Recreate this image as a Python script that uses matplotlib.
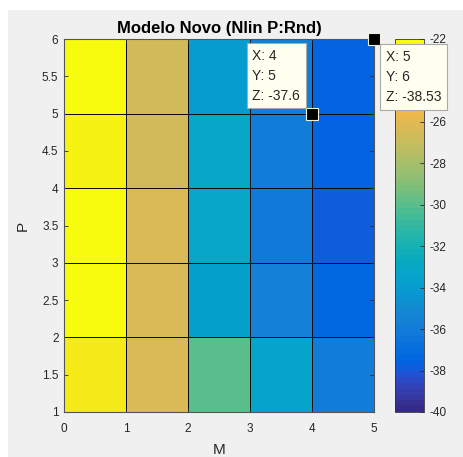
import numpy as np
import matplotlib
matplotlib.use("Agg")
import matplotlib.pyplot as plt
from matplotlib.colors import ListedColormap, Normalize
from matplotlib.patches import Rectangle
import matplotlib.colorbar as mcolorbar

plt.rcParams['font.family'] = ['Liberation Sans', 'DejaVu Sans']

# ---- data ----
M_edges = [0, 1, 2, 3, 4, 5]
P_edges = [1, 2, 3, 4, 5, 6]
# Z[row for P=1..5][col for M=0..4]
Z_row_P1 = [-22.6, -26.3, -30.0, -33.4, -36.0]
Z_row_P2 = [-22.0, -26.3, -33.7, -35.7, -37.4]
Z_row_P3 = [-22.0, -26.3, -33.1, -36.3, -38.0]
Z_row_P4 = [-22.3, -26.6, -33.0, -35.8, -37.6]
Z_row_P5 = [-22.0, -26.6, -34.0, -35.8, -37.6]
tip_x = [4, 5]
tip_y = [5, 6]
tip_z = ["-37.6", "-38.53"]
cbar_ticks = [-40, -38, -36, -34, -32, -30, -28, -26, -24, -22]
x_ticks = [0, 1, 2, 3, 4, 5]
y_ticks = [1, 1.5, 2, 2.5, 3, 3.5, 4, 4.5, 5, 5.5, 6]
clim = (-40, -22)

parula_data = [[0.2081, 0.1663, 0.5292], [0.2116, 0.1898, 0.5777], [0.2123, 0.2138, 0.6270], [0.2081, 0.2386, 0.6771],
 [0.1959, 0.2645, 0.7279], [0.1707, 0.2919, 0.7792], [0.1253, 0.3242, 0.8303], [0.0591, 0.3598, 0.8683],
 [0.0117, 0.3875, 0.8820], [0.0060, 0.4086, 0.8828], [0.0165, 0.4266, 0.8786], [0.0329, 0.4430, 0.8720],
 [0.0498, 0.4586, 0.8641], [0.0629, 0.4737, 0.8554], [0.0723, 0.4887, 0.8467], [0.0779, 0.5040, 0.8384],
 [0.0793, 0.5200, 0.8312], [0.0749, 0.5375, 0.8263], [0.0641, 0.5570, 0.8240], [0.0488, 0.5772, 0.8228],
 [0.0343, 0.5966, 0.8199], [0.0265, 0.6137, 0.8135], [0.0239, 0.6287, 0.8038], [0.0231, 0.6418, 0.7913],
 [0.0228, 0.6535, 0.7768], [0.0267, 0.6642, 0.7607], [0.0384, 0.6743, 0.7436], [0.0590, 0.6838, 0.7254],
 [0.0843, 0.6928, 0.7062], [0.1133, 0.7015, 0.6859], [0.1453, 0.7098, 0.6646], [0.1801, 0.7177, 0.6424],
 [0.2178, 0.7250, 0.6193], [0.2586, 0.7317, 0.5954], [0.3022, 0.7376, 0.5712], [0.3482, 0.7424, 0.5473],
 [0.3953, 0.7459, 0.5244], [0.4420, 0.7481, 0.5033], [0.4871, 0.7491, 0.4840], [0.5300, 0.7491, 0.4661],
 [0.5709, 0.7485, 0.4494], [0.6099, 0.7473, 0.4337], [0.6473, 0.7456, 0.4188], [0.6834, 0.7435, 0.4044],
 [0.7184, 0.7411, 0.3905], [0.7525, 0.7384, 0.3768], [0.7858, 0.7356, 0.3633], [0.8185, 0.7327, 0.3498],
 [0.8507, 0.7299, 0.3360], [0.8824, 0.7274, 0.3217], [0.9139, 0.7258, 0.3063], [0.9450, 0.7261, 0.2886],
 [0.9739, 0.7314, 0.2666], [0.9938, 0.7455, 0.2403], [0.9990, 0.7653, 0.2164], [0.9955, 0.7861, 0.1967],
 [0.9880, 0.8066, 0.1794], [0.9789, 0.8271, 0.1633], [0.9697, 0.8481, 0.1475], [0.9626, 0.8705, 0.1309],
 [0.9589, 0.8949, 0.1132], [0.9598, 0.9218, 0.0948], [0.9661, 0.9514, 0.0755], [0.9763, 0.9831, 0.0538]]
parula = ListedColormap(parula_data, name='parula')

W, H = 464, 457
fig = plt.figure(figsize=(W / 100, H / 100), dpi=100, facecolor='white')
fig.patches.append(Rectangle((8 / W, 0), 1, (H - 10) / H, transform=fig.transFigure,
                             facecolor='#f0f0f0', edgecolor='none', zorder=-10))

def fx(px):
    return px / W

def fy(py):
    return 1 - py / H

# colorbar (created first so the main axes, with the datatips, sits above it)
cax = fig.add_axes([fx(395), fy(412), fx(424) - fx(395), fy(39) - fy(412)])
norm = Normalize(*clim)
cb = mcolorbar.ColorbarBase(cax, cmap=parula, norm=norm, ticks=cbar_ticks)
cb.outline.set_edgecolor('#333333')
cb.outline.set_linewidth(0.6)
cax.tick_params(direction='in', length=3, width=0.6, labelsize=8.5, colors='#262626', pad=4)
cax.set_yticklabels([('%g' % v) for v in cbar_ticks])

ax = fig.add_axes([fx(64), fy(412), fx(374) - fx(64), fy(39) - fy(412)])
ax.set_zorder(cax.get_zorder() + 1)
Z = np.array([Z_row_P1, Z_row_P2, Z_row_P3, Z_row_P4, Z_row_P5])
ax.pcolormesh(M_edges, P_edges, Z, cmap=parula, norm=norm, edgecolor='#0a0a0a',
              linewidth=0.7, antialiased=True)
ax.set_xlim(M_edges[0], M_edges[-1])
ax.set_ylim(P_edges[0], P_edges[-1])
ax.set_xticks(x_ticks)
ax.set_yticks(y_ticks)
ax.set_yticklabels([('%g' % v) for v in y_ticks])
ax.tick_params(direction='in', length=3, width=0.6, labelsize=8.5, colors='#262626', pad=4,
               top=True, right=True)
ax.tick_params(axis='x', pad=8)
for s in ax.spines.values():
    s.set_color('#555555')
    s.set_linewidth(0.8)
ax.set_title('Modelo Novo (Nlin P:Rnd)', fontsize=12, fontweight='bold', pad=4)
ax.set_xlabel('M', fontsize=11, color='#262626', labelpad=6)
ax.set_ylabel('P', fontsize=11, color='#262626', labelpad=9)

# datatips
offsets = [(-12, 11, 'right', 'bottom'), (12, -11, 'left', 'top')]
for x, y, z, (dx, dy, ha, va) in zip(tip_x, tip_y, tip_z, offsets):
    ax.plot([x], [y], marker='s', markersize=8.5, color='black', markeredgecolor='#f0f0e0',
            markeredgewidth=0.8, clip_on=False, zorder=5)
    ax.annotate('X: %g\nY: %g\nZ: %s' % (x, y, z), xy=(x, y), xytext=(dx, dy),
                textcoords='offset pixels', ha=ha, va=va, multialignment='left',
                fontsize=10, color='#262626',
                linespacing=1.55, zorder=6, annotation_clip=False,
                bbox=dict(boxstyle='square,pad=0.4', facecolor='#fffff0', edgecolor='#aaaaaa',
                          linewidth=0.8))

fig.savefig('out.png', dpi=100, facecolor=fig.get_facecolor())
